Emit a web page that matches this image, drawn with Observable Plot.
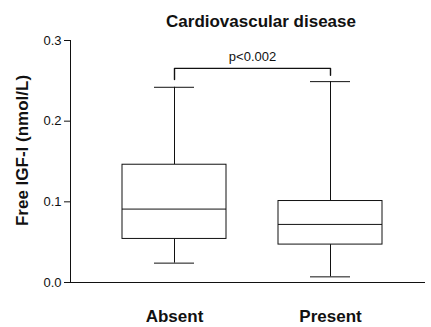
<!DOCTYPE html>
<html>
<head>
<meta charset="utf-8">
<script src="https://cdn.jsdelivr.net/npm/d3@7"></script>
<script src="https://cdn.jsdelivr.net/npm/@observablehq/plot@0.6"></script>
<style>
  html, body { margin: 0; padding: 0; background: #fff; }
  #chart svg { display: block; }
</style>
</head>
<body>
<div id="chart"></div>
<script>
// Data
const groups = ["Absent", "Present"];
const whiskerLow = [0.024, 0.007];
const q1 = [0.054, 0.047];
const median = [0.091, 0.072];
const q3 = [0.146, 0.101];
const whiskerHigh = [0.242, 0.249];
const yTicks = [0, 0.1, 0.2, 0.3];
const titleText = "Cardiovascular disease";
const yLabel = "Free IGF-I (nmol/L)";
const pText = "p<0.002";
// significance bracket (group, value)
const bracketGroups = ["Absent", "Absent", "Present", "Present"];
const bracketValues = [0.2515, 0.2655, 0.2655, 0.257];

const boxes = groups.map((g, i) => ({
  group: g, lo: whiskerLow[i], q1: q1[i], med: median[i], q3: q3[i], hi: whiskerHigh[i]
}));
const bracket = bracketGroups.map((g, i) => ({group: g, value: bracketValues[i]}));

const ink = "#111";

const chart = Plot.plot({
  width: 431,
  height: 327,
  marginLeft: 70,
  marginRight: 6,
  marginTop: 40,
  marginBottom: 45,
  style: {fontFamily: "'Liberation Sans', Arial, sans-serif", fontSize: "13px", background: "#fff", color: ink},
  x: {type: "band", domain: groups, range: [121.5, 383.5], paddingInner: 0.331, paddingOuter: 0, align: 0.5},
  y: {domain: [0, 0.3]},
  marks: [
    Plot.frame({anchor: "left", stroke: ink}),
    Plot.ruleY([0], {stroke: ink}),
    Plot.axisY({ticks: yTicks, tickFormat: d3.format(".1f"), tickSize: 6, tickPadding: 3, label: null, fontSize: 13}),
    Plot.axisX({tickSize: 0, tickPadding: 27, label: null, fontSize: 17, fontWeight: "bold"}),
    // whiskers
    Plot.ruleX(boxes, {x: "group", y1: "q3", y2: "hi", stroke: ink}),
    Plot.ruleX(boxes, {x: "group", y1: "lo", y2: "q1", stroke: ink}),
    // caps
    Plot.tickY(boxes, {x: "group", y: "hi", stroke: ink, insetLeft: 32, insetRight: 32}),
    Plot.tickY(boxes, {x: "group", y: "lo", stroke: ink, insetLeft: 32, insetRight: 32}),
    // boxes
    Plot.barY(boxes, {x: "group", y1: "q1", y2: "q3", fill: "white", stroke: ink}),
    // medians
    Plot.tickY(boxes, {x: "group", y: "med", stroke: ink}),
    // significance bracket
    Plot.line(bracket, {x: "group", y: "value", stroke: ink, strokeWidth: 1.4, curve: "linear"}),
    Plot.text([pText], {x: () => groups[0], y: () => bracketValues[1], dx: 78, dy: -12, fontSize: 13, fill: ink}),
    // title
    Plot.text([titleText], {frameAnchor: "top", textAnchor: "middle", lineAnchor: "middle", dx: 13, dy: -19, fontSize: 17, fontWeight: "bold", fill: ink}),
    // y-axis label
    Plot.text([yLabel], {frameAnchor: "left", textAnchor: "middle", lineAnchor: "middle", rotate: -90, dx: -48, dy: -11, fontSize: 17, fontWeight: "bold", fill: ink})
  ]
});
document.getElementById("chart").appendChild(chart);
</script>
</body>
</html>
